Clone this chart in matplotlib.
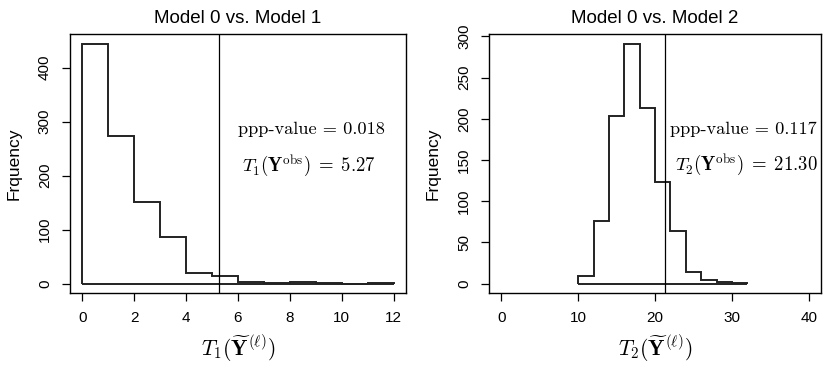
import matplotlib
matplotlib.use('Agg')
import matplotlib.pyplot as plt
import numpy as np

plt.rcParams['font.family'] = ['Liberation Sans', 'DejaVu Sans']
plt.rcParams['mathtext.fontset'] = 'cm'

# Model 0 vs. Model 1
edges1 = np.arange(0, 13, 1)
counts1 = [444, 274, 151, 86, 20, 15, 4, 2, 3, 1, 0, 1]
obs1 = 5.27
ppp1 = '0.018'
xticks1 = [0, 2, 4, 6, 8, 10, 12]
yticks1 = [0, 100, 200, 300, 400]

# Model 0 vs. Model 2
edges2 = np.arange(10, 33, 2)
counts2 = [9, 76, 203, 291, 213, 123, 64, 14, 5, 2, 1]
obs2 = 21.30
ppp2 = '0.117'
xticks2 = [0, 10, 20, 30, 40]
yticks2 = [0, 50, 100, 150, 200, 250, 300]

fig = plt.figure(figsize=(8.3, 3.74), dpi=100)
ax1 = fig.add_axes([0.0843, 0.2158, 0.4048, 0.6925])
ax2 = fig.add_axes([0.5892, 0.2158, 0.4, 0.6925])


def r_lim(lo, hi):
    # R pads the axis range by 4% on each side
    pad = (hi - lo) * 0.04
    return lo - pad, hi + pad


def draw(ax, edges, counts, obs, ppp, idx, xticks, yticks, xr, txt_x, txt_y):
    ax.hist(edges[:-1], bins=edges, weights=counts, histtype='step',
            color='#222222', linewidth=1.4)
    ax.hlines(0, edges[0], edges[-1], color='#222222', linewidth=1.4)
    ax.axvline(obs, color='black', linewidth=0.9)
    ax.set_xlim(*r_lim(*xr))
    ax.set_ylim(*r_lim(0, max(counts)))
    ax.set_xticks(xticks)
    ax.set_yticks(yticks)
    ax.tick_params(direction='out', length=6, width=0.9, labelsize=11,
                   pad=7)
    for lab in ax.get_yticklabels():
        lab.set_rotation(90)
        lab.set_va('center')
    for sp in ax.spines.values():
        sp.set_linewidth(1.0)
    ax.set_title(f'Model 0 vs. Model {idx}', fontsize=13.5, pad=8)
    ax.set_ylabel('Frquency', fontsize=12.5, labelpad=12)
    ax.set_xlabel(r'$T_%d(\widetilde{\mathbf{Y}}^{(\ell)})$' % idx,
                  fontsize=15.5, labelpad=6)
    ax.text(txt_x[0], txt_y[0], f'ppp-value = {ppp}', family='cmr10',
            fontsize=13.2, ha='center', va='center')
    ax.text(txt_x[1], txt_y[1],
            r'$T_%d(\mathbf{Y}^{\mathrm{obs}})\;=\;%.2f$' % (idx, obs),
            fontsize=13.5, ha='center', va='center')


draw(ax1, edges1, counts1, obs1, ppp1, 1, xticks1, yticks1, (0, 12),
     (8.85, 8.75), (286, 218))
draw(ax2, edges2, counts2, obs2, ppp2, 2, xticks2, yticks2, (0, 40),
     (31.5, 31.9), (187, 143))

fig.savefig('out.png', dpi=100)
